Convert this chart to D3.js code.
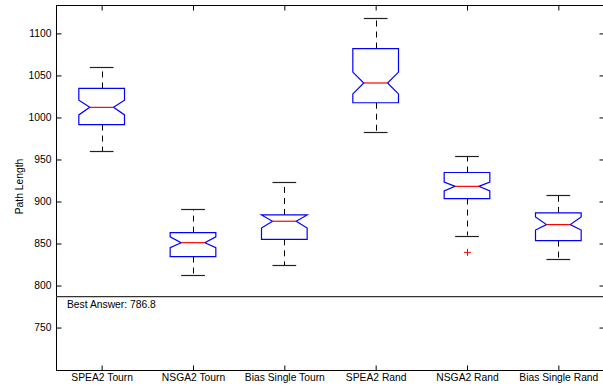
<!DOCTYPE html>
<html>
<head>
<meta charset="utf-8">
<script src="https://cdn.jsdelivr.net/npm/d3@7"></script>
<style>
  html, body { margin: 0; padding: 0; background: #fff; }
  svg { display: block; font-family: "Liberation Sans", Arial, sans-serif; }
</style>
</head>
<body>
<svg id="chart" width="603" height="386"></svg>
<script>
// Path length distributions per algorithm / selection scheme
const categories = ["SPEA2 Tourn", "NSGA2 Tourn", "Bias Single Tourn", "SPEA2 Rand", "NSGA2 Rand", "Bias Single Rand"];
const whiskerHi = [1060, 891, 923, 1118, 954, 908];
const q3 = [1034.5, 863, 884, 1082, 934.5, 886.5];
const notchHi = [1020.5, 858, 884, 1054, 923, 881.5];
const median = [1012, 851, 876.5, 1041, 918, 872.5];
const notchLo = [1003, 845, 868.5, 1028, 912.5, 866];
const q1 = [991.5, 834.5, 855, 1017.5, 903.5, 853.5];
const whiskerLo = [960, 813, 824, 983, 859.5, 832];
const outliers = [[], [], [], [], [839.5], []];
const yTicks = [750, 800, 850, 900, 950, 1000, 1050, 1100];
const bestAnswer = 786.8;

const svg = d3.select("#chart");
const plotL = 56, plotT = 5, plotR = 604, plotB = 370;
const fontSize = 10.3;

const x = d3.scaleLinear().domain([0.5, 6.5]).range([plotL, plotR]);
const y = d3.scaleLinear().domain([699.5, 1133.8]).range([plotB, plotT]);

const boxHalf = 0.25, notchHalf = 0.13, capHalf = 0.13;
const crisp = v => Math.round(v) + 0.5;

// Frame
svg.append("rect")
  .attr("x", plotL + 0.5).attr("y", plotT + 0.5)
  .attr("width", plotR - plotL).attr("height", plotB - plotT)
  .attr("fill", "none").attr("stroke", "#000").attr("stroke-width", 1);

// Axes: ticks pointing inward on all four sides
const idx = categories.map((_, i) => i + 1);
const xAxisB = d3.axisBottom(x).tickValues(idx).tickFormat(i => categories[i - 1]).tickSizeInner(-5).tickSizeOuter(0).tickPadding(3);
const xAxisT = d3.axisTop(x).tickValues(idx).tickFormat("").tickSizeInner(-5).tickSizeOuter(0);
const yAxisL = d3.axisLeft(y).tickValues(yTicks).tickFormat(d3.format("d")).tickSizeInner(-5).tickSizeOuter(0).tickPadding(5);
const yAxisR = d3.axisRight(y).tickValues(yTicks).tickFormat("").tickSizeInner(-5).tickSizeOuter(0);

function styleAxis(g) {
  g.select(".domain").remove();
  g.selectAll("line").attr("stroke", "#000");
  g.selectAll("text").attr("fill", "#000").attr("font-size", fontSize)
    .attr("font-family", "Liberation Sans, Arial, sans-serif");
}
svg.append("g").attr("transform", `translate(0,${plotB + 0.5})`).call(xAxisB).call(styleAxis);
svg.append("g").attr("transform", `translate(0,${plotT + 0.5})`).call(xAxisT).call(styleAxis);
svg.append("g").attr("transform", `translate(${plotL + 0.5},0)`).call(yAxisL).call(styleAxis);
svg.append("g").attr("transform", `translate(${plotR + 0.5},0)`).call(yAxisR).call(styleAxis);

// Y axis title
svg.append("text")
  .attr("transform", `translate(23,${(plotT + plotB) / 2 - 1}) rotate(-90)`)
  .attr("text-anchor", "middle").attr("font-size", fontSize).attr("fill", "#000")
  .text("Path Length");

// Boxes
const g = svg.append("g");
categories.forEach((c, k) => {
  const i = k + 1;
  const cx = crisp(x(i));
  const bl = x(i - boxHalf), br = x(i + boxHalf);
  const nl = x(i - notchHalf), nr = x(i + notchHalf);

  // whiskers
  g.append("line").attr("x1", cx).attr("x2", cx)
    .attr("y1", y(q3[k])).attr("y2", y(whiskerHi[k]))
    .attr("stroke", "#000").attr("stroke-dasharray", "6,5");
  g.append("line").attr("x1", cx).attr("x2", cx)
    .attr("y1", y(q1[k])).attr("y2", y(whiskerLo[k]))
    .attr("stroke", "#000").attr("stroke-dasharray", "6,5");
  // caps
  [whiskerHi[k], whiskerLo[k]].forEach(v => {
    g.append("line").attr("x1", x(i - capHalf)).attr("x2", x(i + capHalf))
      .attr("y1", crisp(y(v))).attr("y2", crisp(y(v)))
      .attr("stroke", "#222").attr("stroke-width", 1.2);
  });

  // notched box outline
  const pts = [
    [bl, y(q3[k])], [br, y(q3[k])], [br, y(notchHi[k])], [nr, y(median[k])],
    [br, y(notchLo[k])], [br, y(q1[k])], [bl, y(q1[k])], [bl, y(notchLo[k])],
    [nl, y(median[k])], [bl, y(notchHi[k])]
  ];
  g.append("path").attr("d", d3.line()(pts) + "Z")
    .attr("fill", "#fff").attr("stroke", "#0000ff").attr("stroke-width", 1.2);

  // median
  g.append("line").attr("x1", nl).attr("x2", nr)
    .attr("y1", y(median[k])).attr("y2", y(median[k]))
    .attr("stroke", "#ff0000").attr("stroke-width", 1.2);

  // outliers
  outliers[k].forEach(v => {
    const py = y(v);
    g.append("path").attr("d", `M${cx - 3.5},${py}H${cx + 3.5}M${cx},${py - 3.5}V${py + 3.5}`)
      .attr("stroke", "#ff0000").attr("stroke-width", 1);
  });
});

// Best answer reference line
svg.append("line")
  .attr("x1", plotL).attr("x2", plotR)
  .attr("y1", y(bestAnswer)).attr("y2", y(bestAnswer))
  .attr("stroke", "#333").attr("stroke-width", 1.3);
svg.append("text")
  .attr("x", plotL + 11).attr("y", y(bestAnswer) + 11)
  .attr("font-size", fontSize).attr("fill", "#000")
  .text("Best Answer: " + bestAnswer);
</script>
</body>
</html>
